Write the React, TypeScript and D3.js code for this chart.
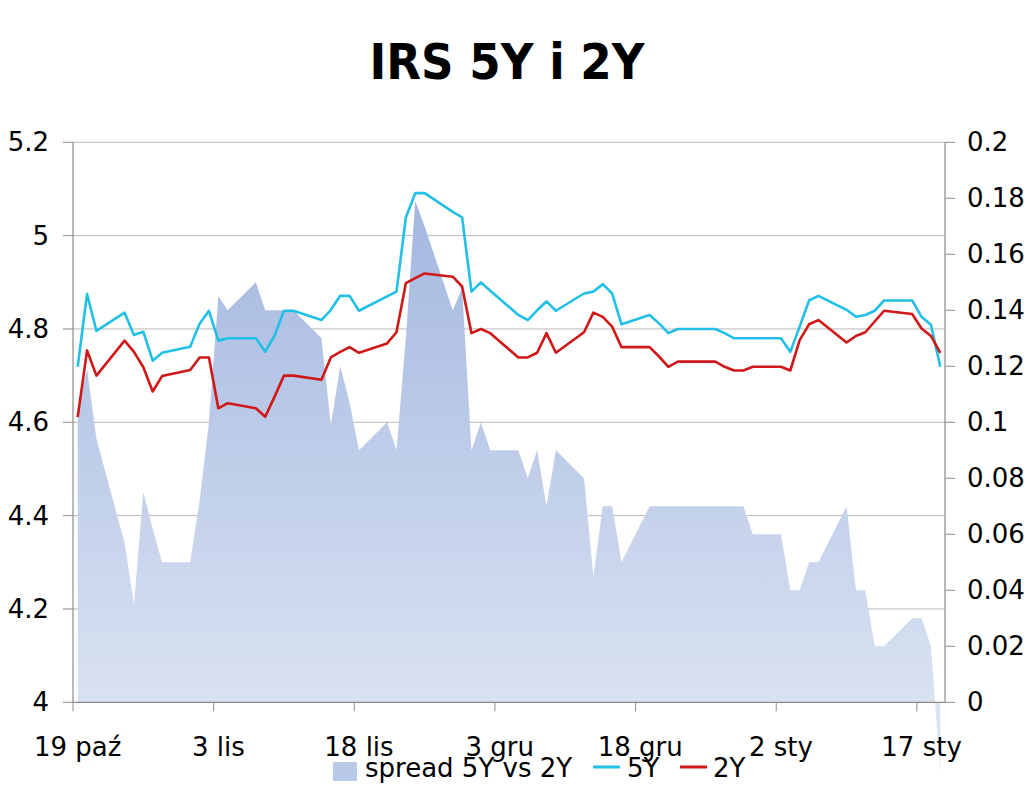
import React from "react";
import * as d3 from "d3";

const dates = [
  "2011-10-19","2011-10-20","2011-10-21","2011-10-24","2011-10-25","2011-10-26","2011-10-27","2011-10-28",
  "2011-10-31","2011-11-01","2011-11-02","2011-11-03","2011-11-04","2011-11-07","2011-11-08","2011-11-09",
  "2011-11-10","2011-11-11","2011-11-14","2011-11-15","2011-11-16","2011-11-17","2011-11-18","2011-11-21",
  "2011-11-22","2011-11-23","2011-11-24","2011-11-25","2011-11-28","2011-11-29","2011-11-30","2011-12-01",
  "2011-12-02","2011-12-05","2011-12-06","2011-12-07","2011-12-08","2011-12-09","2011-12-12","2011-12-13",
  "2011-12-14","2011-12-15","2011-12-16","2011-12-19","2011-12-20","2011-12-21","2011-12-22","2011-12-23",
  "2011-12-26","2011-12-27","2011-12-28","2011-12-29","2011-12-30","2012-01-02","2012-01-03","2012-01-04",
  "2012-01-05","2012-01-06","2012-01-09","2012-01-10","2012-01-11","2012-01-12","2012-01-13","2012-01-16",
  "2012-01-17","2012-01-18","2012-01-19",
];

const irs5Y = [
  4.719, 4.875, 4.796, 4.835, 4.787, 4.794, 4.732, 4.749,
  4.762, 4.811, 4.839, 4.775, 4.780, 4.780, 4.751, 4.786,
  4.839, 4.839, 4.819, 4.841, 4.871, 4.871, 4.839, 4.870,
  4.880, 5.039, 5.091, 5.091, 5.051, 5.039, 4.880, 4.900,
  4.882, 4.830, 4.819, 4.840, 4.859, 4.839, 4.876, 4.880,
  4.896, 4.876, 4.810, 4.830, 4.812, 4.791, 4.800, 4.800,
  4.800, 4.791, 4.780, 4.780, 4.780, 4.780, 4.751, 4.805,
  4.861, 4.871, 4.841, 4.826, 4.830, 4.839, 4.861, 4.861,
  4.826, 4.809, 4.719,
];

const irs2Y = [
  4.611, 4.754, 4.700, 4.775, 4.751, 4.718, 4.666, 4.699,
  4.712, 4.739, 4.739, 4.630, 4.641, 4.630, 4.612, 4.655,
  4.700, 4.700, 4.691, 4.739, 4.751, 4.761, 4.749, 4.769,
  4.793, 4.898, 4.909, 4.919, 4.912, 4.891, 4.791, 4.800,
  4.791, 4.739, 4.739, 4.749, 4.791, 4.749, 4.793, 4.835,
  4.826, 4.805, 4.761, 4.761, 4.741, 4.719, 4.730, 4.730,
  4.730, 4.719, 4.711, 4.711, 4.719, 4.719, 4.711, 4.776,
  4.810, 4.819, 4.771, 4.785, 4.793, 4.816, 4.839, 4.832,
  4.801, 4.785, 4.749,
];

const spread = [
  0.105, 0.119, 0.094, 0.057, 0.035, 0.075, 0.062, 0.050,
  0.050, 0.072, 0.100, 0.145, 0.140, 0.150, 0.140, 0.140,
  0.140, 0.140, 0.130, 0.099, 0.120, 0.107, 0.090, 0.100,
  0.090, 0.130, 0.179, 0.170, 0.140, 0.148, 0.090, 0.100,
  0.090, 0.090, 0.080, 0.090, 0.070, 0.090, 0.080, 0.045,
  0.070, 0.070, 0.050, 0.070, 0.070, 0.070, 0.070, 0.070,
  0.070, 0.070, 0.070, 0.070, 0.060, 0.060, 0.040, 0.040,
  0.050, 0.050, 0.070, 0.040, 0.040, 0.020, 0.020, 0.030,
  0.030, 0.020, -0.025,
];

const xTickDates = ["2011-10-19","2011-11-03","2011-11-18","2011-12-03","2011-12-18","2012-01-02","2012-01-17"];
const xTickLabels = ["19 paź","3 lis","18 lis","3 gru","18 gru","2 sty","17 sty"];
const leftTicks = [4, 4.2, 4.4, 4.6, 4.8, 5, 5.2];
const rightTicks = [0, 0.02, 0.04, 0.06, 0.08, 0.1, 0.12, 0.14, 0.16, 0.18, 0.2];
const title = "IRS 5Y i 2Y";
const legendLabels = ["spread 5Y vs 2Y", "5Y", "2Y"];

const W = 1024, H = 791;
const L = 73, R = 945, T = 142.3, B = 702.3;
const FONT = "'DejaVu Sans', Verdana, sans-serif";
const C5 = "#22bfe6";
const C2 = "#d01818";

export default function App() {
  const parse = d3.utcParse("%Y-%m-%d");
  const x = d3.scaleUtc().domain([parse("2011-10-19")!, parse("2012-01-20")!]).range([L, R]);
  const yL = d3.scaleLinear().domain([4, 5.2]).range([B, T]);
  const yR = d3.scaleLinear().domain([0, 0.2]).range([B, T]);
  const mid = (s: string) => d3.utcHour.offset(parse(s)!, 12);

  const rows = dates.map((d, i) => ({ t: mid(d), a: irs5Y[i], b: irs2Y[i], s: spread[i] }));

  const area = d3.area<any>().x((d) => x(d.t)).y0(yR(0)).y1((d) => yR(d.s));
  const line5 = d3.line<any>().x((d) => x(d.t)).y((d) => yL(d.a));
  const line2 = d3.line<any>().x((d) => x(d.t)).y((d) => yL(d.b));

  const fmtL = (v: number) => d3.format("")(+v.toFixed(1));
  const fmtR = (v: number) => String(+v.toFixed(2));

  return (
    <svg width={W} height={H} style={{ position: "absolute", left: 0, top: 0, background: "#fff" }}>
      <defs>
        <linearGradient id="ag" gradientUnits="userSpaceOnUse" x1="0" y1={T} x2="0" y2={B}>
          <stop offset="0" stopColor="#9db2dd" />
          <stop offset="1" stopColor="#d9e2f2" />
        </linearGradient>
      </defs>
      <text x={507} y={79} textAnchor="middle" fontFamily={FONT} fontWeight="bold" fontSize={50}
        textLength={275} lengthAdjust="spacingAndGlyphs" fill="#000">{title}</text>

      {leftTicks.filter((v) => v > 4).map((v) => (
        <line key={"g" + v} x1={L} x2={R} y1={yL(v)} y2={yL(v)} stroke="#b8b8b8" strokeWidth={1} />
      ))}

      <path d={area(rows) || ""} fill="url(#ag)" />

      <line x1={L} x2={L} y1={T} y2={B} stroke="#8c8c8c" strokeWidth={1.2} />
      <line x1={R} x2={R} y1={T} y2={B} stroke="#8c8c8c" strokeWidth={1.2} />
      <line x1={L} x2={R} y1={B} y2={B} stroke="#8c8c8c" strokeWidth={1.2} />

      {leftTicks.map((v) => (
        <g key={"l" + v}>
          <line x1={L - 10} x2={L} y1={yL(v)} y2={yL(v)} stroke="#8c8c8c" />
          <text x={49} y={yL(v) + 9} textAnchor="end" fontFamily={FONT} fontSize={26} fill="#000">{fmtL(v)}</text>
        </g>
      ))}
      {rightTicks.map((v) => (
        <g key={"r" + v}>
          <line x1={R} x2={R + 10} y1={yR(v)} y2={yR(v)} stroke="#8c8c8c" />
          <text x={967} y={yR(v) + 9} textAnchor="start" fontFamily={FONT} fontSize={26} fill="#000">{fmtR(v)}</text>
        </g>
      ))}
      {xTickDates.map((d, i) => (
        <g key={"x" + d}>
          <line x1={x(parse(d)!)} x2={x(parse(d)!)} y1={B} y2={B + 9} stroke="#8c8c8c" />
          <text x={x(mid(d))} y={756} textAnchor="middle" fontFamily={FONT} fontSize={26} fill="#000">{xTickLabels[i]}</text>
        </g>
      ))}

      <path d={line5(rows) || ""} fill="none" stroke={C5} strokeWidth={2.6} strokeLinejoin="round" />
      <path d={line2(rows) || ""} fill="none" stroke={C2} strokeWidth={2.6} strokeLinejoin="round" />

      <g>
        <rect x={333} y={762} width={24} height={19} fill="url(#ag2)" style={{ fill: "#b9c9e8" }} />
        <text x={365} y={777} fontFamily={FONT} fontSize={26} fill="#000">{legendLabels[0]}</text>
        <line x1={593} x2={620} y1={767} y2={767} stroke={C5} strokeWidth={3} />
        <text x={627} y={777} fontFamily={FONT} fontSize={26} fill="#000">{legendLabels[1]}</text>
        <line x1={680} x2={707} y1={767} y2={767} stroke={C2} strokeWidth={3} />
        <text x={713} y={777} fontFamily={FONT} fontSize={26} fill="#000">{legendLabels[2]}</text>
      </g>
    </svg>
  );
}
